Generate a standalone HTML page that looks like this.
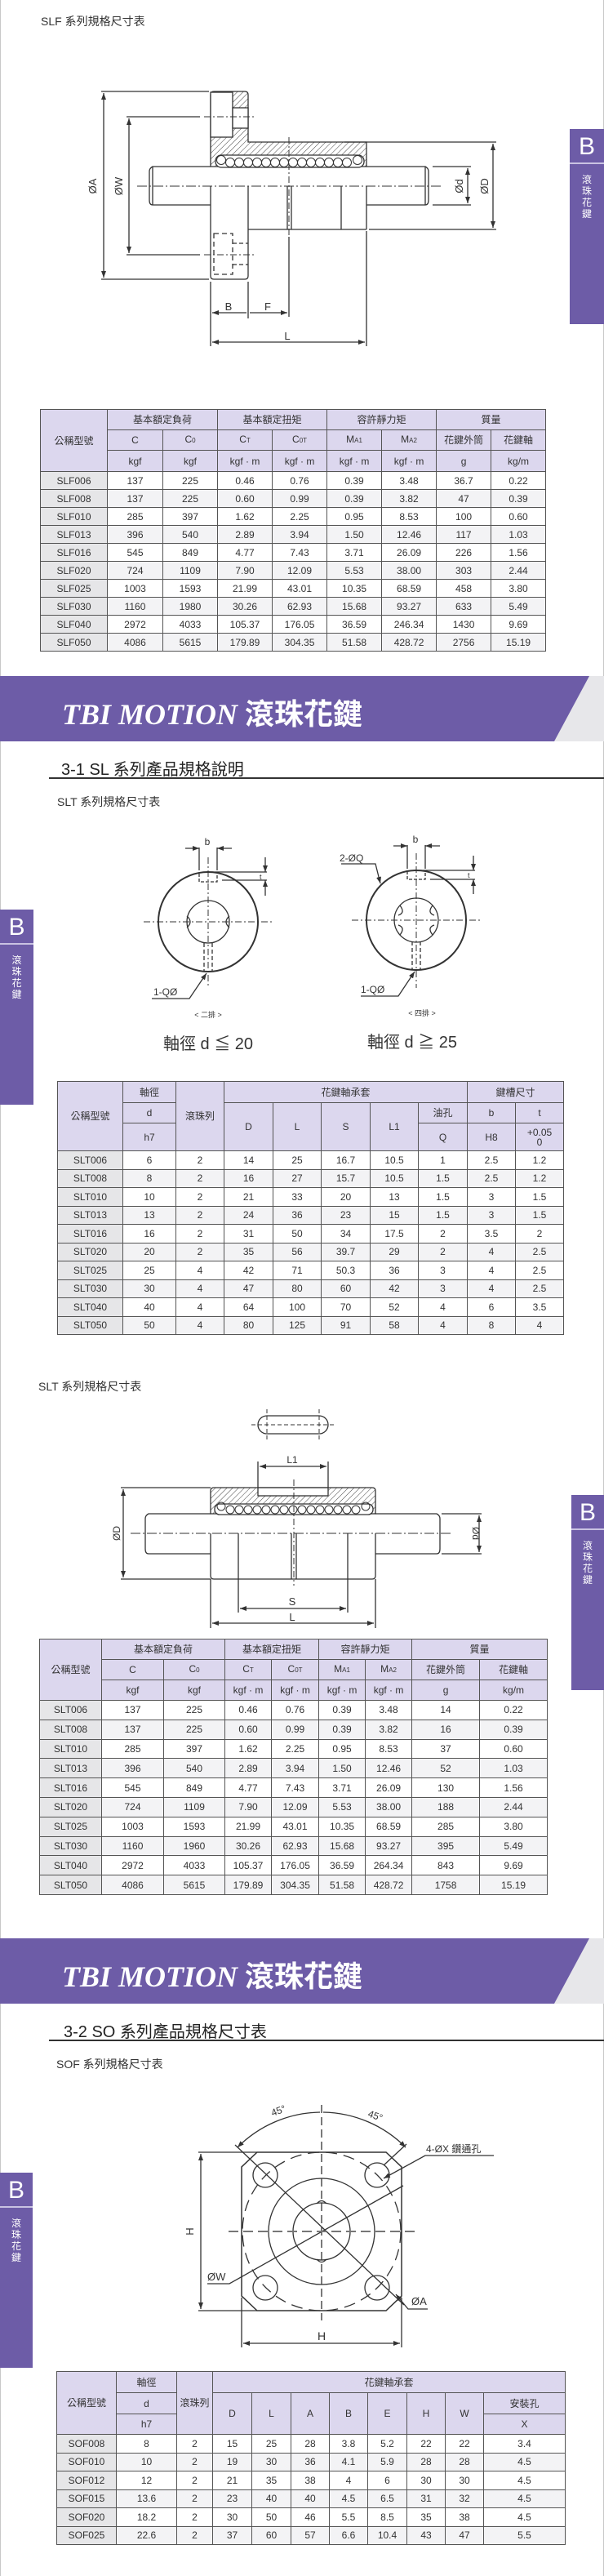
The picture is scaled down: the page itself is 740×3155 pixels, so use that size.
<!DOCTYPE html>
<html><head><meta charset="utf-8">
<style>
*{margin:0;padding:0;box-sizing:border-box}
body{width:740px;height:3155px;position:relative;background:#fff;font-family:"Liberation Sans","Noto Sans CJK TC",sans-serif;color:#333;overflow:hidden}
.abs{position:absolute}
.cap{position:absolute;font-size:14px;color:#333;white-space:nowrap}
.sec{position:absolute;font-size:20px;color:#222;white-space:nowrap}
.uline{position:absolute;left:60px;width:680px;height:2px;background:#333}
.banner{position:absolute;left:0;width:740px;height:80px;background:#e7e7ea}
.banner .p{position:absolute;left:0;top:0;width:740px;height:80px;background:#6d5ca7;clip-path:polygon(0 0,722px 0,679px 80px,0 80px)}
.banner .tt{position:absolute;left:76px;top:18px;font-family:"Liberation Serif","Noto Serif CJK SC",serif;font-style:italic;font-weight:bold;font-size:36px;color:#fff;white-space:nowrap}
.banner .tt span{font-family:"Noto Sans CJK TC",sans-serif;font-style:normal;font-size:36px}
.tab{position:absolute;background:#6d5ca7;color:#fff;text-align:center}
.tab .b{height:43px;font-size:30px;line-height:43px;border-bottom:2px solid #c9c2e2}
.tab .v{font-size:12px;line-height:14px;padding-top:12px;font-family:"Noto Sans CJK TC",sans-serif}
table.t{position:absolute;border-collapse:collapse;table-layout:fixed;font-size:12px;color:#333}
table.t td{border:1.5px solid #555;text-align:center;padding:0;background:#fff;line-height:12px;overflow:hidden}
table.t td.h{background:#dcd7ee}
table.t td.m{background:#e6e6e8}
table.t tr.g td{background:#f3f3f5}
table.t tr.g td.m{background:#e6e6e8}
sub{font-size:8px;vertical-align:baseline}
svg text{font-family:"Liberation Sans","Noto Sans CJK TC",sans-serif;fill:#333}
</style></head><body>

<div class="abs" style="left:0;top:0;width:1px;height:3155px;background:#c8c8c8"></div>
<div class="abs" style="left:739px;top:0;width:1px;height:3155px;background:#c8c8c8"></div>

<svg class="abs" style="left:0;top:0" width="740" height="3155" viewBox="0 0 740 3155">
<defs>
<pattern id="hat" width="5" height="5" patternUnits="userSpaceOnUse" patternTransform="rotate(45)"><line x1="0" y1="0" x2="0" y2="5" stroke="#444" stroke-width="1"/></pattern>
<marker id="ar" markerWidth="8" markerHeight="6" refX="8" refY="3" orient="auto-start-reverse" markerUnits="userSpaceOnUse"><path d="M0,0 L8,3 L0,6 Z" fill="#333"/></marker>
</defs>
<g stroke="#333" stroke-width="1.3" fill="none">
<!-- ===== Drawing 1 SLF ===== -->
<path d="M258,116 Q258,112 262,112 L300,112 Q304,112 304,116 L304,174 L449,174 L449,204 L258,204 Z" fill="url(#hat)"/>
<rect x="258" y="113" width="27" height="55" fill="#fff"/>
<rect x="285" y="132" width="19" height="25" fill="#fff"/>
<rect x="264" y="190" width="182" height="15" rx="7" fill="#fff"/>
<g stroke-width="1"><circle cx="271" cy="196" r="5.5"/><circle cx="282" cy="199" r="5.5"/><circle cx="293" cy="199" r="5.5"/><circle cx="304" cy="199" r="5.5"/><circle cx="315" cy="199" r="5.5"/><circle cx="326" cy="199" r="5.5"/><circle cx="337" cy="199" r="5.5"/><circle cx="348" cy="199" r="5.5"/><circle cx="359" cy="199" r="5.5"/><circle cx="370" cy="199" r="5.5"/><circle cx="381" cy="199" r="5.5"/><circle cx="392" cy="199" r="5.5"/><circle cx="403" cy="199" r="5.5"/><circle cx="414" cy="199" r="5.5"/><circle cx="425" cy="199" r="5.5"/><circle cx="438" cy="196" r="5.5"/></g>
<path d="M258,204 L187,204 Q183,206 183,210 L183,245 Q183,251 187,251 L258,251"/>
<path d="M449,204 L521,204 Q525,206 525,210 L525,245 Q525,251 521,251 L449,251"/>
<path d="M187,204 L187,251 M521,204 L521,251"/>
<path d="M258,228 L258,338 Q258,342 262,342 L300,342 Q304,342 304,338 L304,228"/>
<path d="M304,281 L449,281 M449,228 L449,281 M352,228 L352,281 M357,228 L357,281 M418,228 L418,281"/>
<rect x="262" y="286" width="23" height="50" stroke-dasharray="6 4"/>
<path d="M285,298 L304,298 M285,324 L304,324" stroke-dasharray="5 3"/>
<path d="M168,228 L541,228" stroke-dasharray="12 3 2 3" stroke-width="1"/>
<path d="M354,168 L354,290" stroke-dasharray="8 3 2 3" stroke-width="1"/>
<path d="M354,290 L354,388"/>
<path d="M124,112 L256,112 M124,342 L256,342"/>
<path d="M127,114 L127,340" marker-start="url(#ar)" marker-end="url(#ar)"/>
<path d="M155,143 L245,143 M155,312 L245,312"/>
<path d="M250,143 L312,143 M250,312 L312,312" stroke-dasharray="8 3 2 3" stroke-width="1"/>
<path d="M158,145 L158,310" marker-start="url(#ar)" marker-end="url(#ar)"/>
<path d="M530,204 L577,204 M530,251 L577,251"/>
<path d="M573,206 L573,249" marker-start="url(#ar)" marker-end="url(#ar)"/>
<path d="M422,174 L608,174 M452,281 L608,281"/>
<path d="M604,176 L604,279" marker-start="url(#ar)" marker-end="url(#ar)"/>
<path d="M258,345 L258,424 M304,345 L304,390 M449,283 L449,424"/>
<path d="M260,383 L302,383 M306,383 L352,383" marker-start="url(#ar)" marker-end="url(#ar)"/>
<path d="M260,419 L447,419" marker-start="url(#ar)" marker-end="url(#ar)"/>

<!-- ===== Drawing 2 SLT sections ===== -->
<circle cx="255" cy="1129" r="61" stroke-width="2"/>
<circle cx="255" cy="1129" r="26"/>
<path d="M229,1122 Q237,1129 229,1136 M281,1122 Q273,1129 281,1136"/>
<path d="M176,1129 L335,1129 M255,1050 L255,1210" stroke-dasharray="8 3 2 3" stroke-width="1"/>
<path d="M244,1070 L244,1080 L266,1080 L266,1070" stroke-dasharray="4 2"/>
<path d="M244,1038 L244,1066 M266,1038 L266,1066"/>
<path d="M227,1039 L244,1039" marker-end="url(#ar)"/><path d="M284,1039 L266,1039" marker-end="url(#ar)"/>
<path d="M258,1068 L327,1068 M272,1078 L327,1078"/>
<path d="M325,1050 L325,1068" marker-end="url(#ar)"/><path d="M325,1097 L325,1078" marker-end="url(#ar)"/>
<path d="M250,1155 L250,1190 M260,1155 L260,1190" stroke-dasharray="5 3"/>
<path d="M186,1223 L232,1223 L253,1192" marker-end="url(#ar)"/>
<circle cx="510" cy="1127" r="61" stroke-width="2"/>
<circle cx="510" cy="1127" r="27"/>
<path d="M490,1109 Q497,1118 488,1121 M530,1109 Q523,1118 532,1121 M490,1145 Q497,1136 488,1133 M530,1145 Q523,1136 532,1133"/>
<path d="M431,1127 L590,1127 M510,1045 L510,1210" stroke-dasharray="8 3 2 3" stroke-width="1"/>
<path d="M499,1067 L499,1077 L521,1077 L521,1067" stroke-dasharray="4 2"/>
<path d="M499,1035 L499,1064 M521,1035 L521,1064"/>
<path d="M482,1036 L499,1036" marker-end="url(#ar)"/><path d="M539,1036 L521,1036" marker-end="url(#ar)"/>
<path d="M513,1066 L582,1066 M527,1077 L582,1077"/>
<path d="M580,1048 L580,1066" marker-end="url(#ar)"/><path d="M580,1095 L580,1077" marker-end="url(#ar)"/>
<path d="M505,1153 L505,1188 M515,1153 L515,1188" stroke-dasharray="5 3"/>
<path d="M442,1220 L488,1220 L508,1190" marker-end="url(#ar)"/>
<path d="M418,1058 L460,1058 L466,1082" marker-end="url(#ar)"/>

<!-- ===== Drawing 3 SLT longitudinal ===== -->
<rect x="316" y="1734" width="86" height="22" rx="11"/>
<path d="M327,1726 L327,1764 M391,1726 L391,1764 M308,1745 L410,1745" stroke-dasharray="5 3" stroke-width="1"/>
<path d="M262,1822 L456,1822 Q460,1822 460,1826 L460,1854 L258,1854 L258,1826 Q258,1822 262,1822 Z" fill="url(#hat)"/>
<rect x="316" y="1822" width="86" height="10" fill="#fff"/>
<rect x="263" y="1842" width="194" height="13" rx="6" fill="#fff"/>
<g stroke-width="1"><circle cx="271" cy="1845" r="5"/><circle cx="282" cy="1849" r="5"/><circle cx="293" cy="1849" r="5"/><circle cx="304" cy="1849" r="5"/><circle cx="315" cy="1849" r="5"/><circle cx="326" cy="1849" r="5"/><circle cx="337" cy="1849" r="5"/><circle cx="348" cy="1849" r="5"/><circle cx="359" cy="1849" r="5"/><circle cx="370" cy="1849" r="5"/><circle cx="381" cy="1849" r="5"/><circle cx="392" cy="1849" r="5"/><circle cx="403" cy="1849" r="5"/><circle cx="414" cy="1849" r="5"/><circle cx="425" cy="1849" r="5"/><circle cx="436" cy="1849" r="5"/><circle cx="448" cy="1845" r="5"/></g>
<path d="M258,1854 L182,1854 Q178,1856 178,1860 L178,1897 Q178,1903 182,1903 L258,1903"/>
<path d="M460,1854 L535,1854 Q539,1856 539,1860 L539,1897 Q539,1903 535,1903 L460,1903"/>
<path d="M258,1878 L258,1930 Q258,1934 262,1934 L456,1934 Q460,1934 460,1930 L460,1878"/>
<path d="M292,1878 L292,1934 M357,1878 L357,1934 M363,1878 L363,1934 M426,1878 L426,1934"/>
<path d="M160,1878 L555,1878" stroke-dasharray="12 3 2 3" stroke-width="1"/>
<path d="M360,1812 L360,1942" stroke-dasharray="8 3 2 3" stroke-width="1"/>
<path d="M316,1790 L316,1822 M402,1790 L402,1822"/>
<path d="M318,1796 L400,1796" marker-start="url(#ar)" marker-end="url(#ar)"/>
<path d="M148,1822 L258,1822 M148,1934 L258,1934"/>
<path d="M151,1824 L151,1932" marker-start="url(#ar)" marker-end="url(#ar)"/>
<path d="M541,1854 L590,1854 M541,1903 L590,1903"/>
<path d="M587,1856 L587,1901" marker-start="url(#ar)" marker-end="url(#ar)"/>
<path d="M292,1934 L292,1975 M426,1934 L426,1975 M258,1934 L258,1994 M460,1934 L460,1994"/>
<path d="M294,1970 L424,1970" marker-start="url(#ar)" marker-end="url(#ar)"/>
<path d="M260,1988 L458,1988" marker-start="url(#ar)" marker-end="url(#ar)"/>

<!-- ===== Drawing 4 SOF ===== -->
<path d="M315,2636 L473,2636 L492,2654 L492,2812 L473,2830 L315,2830 L296,2812 L296,2654 Z" stroke-width="1.5"/>
<circle cx="394" cy="2733" r="97" stroke-dasharray="14 8"/>
<circle cx="394" cy="2733" r="65"/>
<circle cx="394" cy="2733" r="35"/>
<path d="M388,2699 Q394,2692 400,2699 M388,2767 Q394,2774 400,2767"/>
<circle cx="325" cy="2664" r="15"/><circle cx="462" cy="2664" r="15"/><circle cx="325" cy="2802" r="15"/><circle cx="462" cy="2802" r="15"/>
<path d="M288,2627 L495,2823"/>
<path d="M254,2797 L281,2797 L494,2677"/>
<path d="M394,2578 L394,2842" stroke-dasharray="10 5"/>
<path d="M280,2733 L508,2733" stroke-dasharray="12 6" stroke="#777" stroke-width="2"/>
<path d="M291,2630 A146,146 0 0 1 392,2587" marker-start="url(#ar)"/>
<path d="M497,2630 A146,146 0 0 0 396,2587" marker-start="url(#ar)"/>
<path d="M498,2626 L470,2652"/>
<path d="M605,2640 L521,2640 L470,2668" marker-end="url(#ar)"/>
<path d="M524,2828 L500,2828 L485,2810" marker-end="url(#ar)"/>
<path d="M243,2636 L315,2636 M243,2830 L315,2830"/>
<path d="M246,2638 L246,2828" marker-start="url(#ar)" marker-end="url(#ar)"/>
<path d="M296,2814 L296,2875 M492,2814 L492,2875"/>
<path d="M298,2870 L490,2870" marker-start="url(#ar)" marker-end="url(#ar)"/>
</g>
<g font-size="13">
<text x="118" y="228" transform="rotate(-90 118 228)" text-anchor="middle">ØA</text>
<text x="150" y="228" transform="rotate(-90 150 228)" text-anchor="middle">ØW</text>
<text x="567" y="228" transform="rotate(-90 567 228)" text-anchor="middle">Ød</text>
<text x="598" y="228" transform="rotate(-90 598 228)" text-anchor="middle">ØD</text>
<text x="280" y="380" text-anchor="middle">B</text>
<text x="328" y="380" text-anchor="middle">F</text>
<text x="352" y="416" text-anchor="middle">L</text>
<text x="254" y="1035" text-anchor="middle" font-size="12">b</text>
<text x="509" y="1032" text-anchor="middle" font-size="12">b</text>
<text x="318" y="1077" font-size="9">t</text>
<text x="573" y="1075" font-size="9">t</text>
<text x="188" y="1219" font-size="12">1-QØ</text>
<text x="442" y="1216" font-size="12">1-QØ</text>
<text x="416" y="1055" font-size="12">2-ØQ</text>
<text x="255" y="1246" text-anchor="middle" font-size="9">&lt; 二排 &gt;</text>
<text x="517" y="1244" text-anchor="middle" font-size="9">&lt; 四排 &gt;</text>
<text x="255" y="1285" text-anchor="middle" font-size="20">軸徑 d ≦ 20</text>
<text x="505" y="1283" text-anchor="middle" font-size="20">軸徑 d ≧ 25</text>
<text x="358" y="1792" text-anchor="middle" font-size="12">L1</text>
<text x="147" y="1878" transform="rotate(-90 147 1878)" text-anchor="middle" font-size="12">ØD</text>
<text x="579" y="1878" transform="rotate(90 579 1878)" text-anchor="middle" font-size="12">Ød</text>
<text x="358" y="1966" text-anchor="middle">S</text>
<text x="358" y="1985" text-anchor="middle">L</text>
<text x="334" y="2592" font-size="12" transform="rotate(-20 334 2592)">45°</text>
<text x="450" y="2592" font-size="12" transform="rotate(20 450 2592)">45°</text>
<text x="522" y="2636" font-size="12">4-ØX 鑽通孔</text>
<text x="254" y="2793" font-size="13">ØW</text>
<text x="504" y="2823" font-size="13">ØA</text>
<text x="237" y="2733" transform="rotate(-90 237 2733)" text-anchor="middle">H</text>
<text x="394" y="2866" text-anchor="middle" font-size="14">H</text>
</g>
</svg>

<div class="cap" style="left:50px;top:16px">SLF 系列規格尺寸表</div>
<div class="tab" style="left:698px;top:158px;width:42px;height:239px"><div class="b">B</div><div class="v">滾<br>珠<br>花<br>鍵</div></div>

<table class="t" style="left:49px;top:501px;width:619px">
<colgroup><col style="width:82px"><col style="width:68px"><col style="width:67px"><col style="width:67px"><col style="width:67px"><col style="width:67px"><col style="width:67px"><col style="width:67px"><col style="width:67px"></colgroup>
<tr style="height:25px"><td class="h" rowspan="3">公稱型號</td><td class="h" colspan="2">基本額定負荷</td><td class="h" colspan="2">基本額定扭矩</td><td class="h" colspan="2">容許靜力矩</td><td class="h" colspan="2">質量</td></tr>
<tr style="height:25px"><td class="h">C</td><td class="h">C<sub>0</sub></td><td class="h">C<sub>T</sub></td><td class="h">C<sub>0T</sub></td><td class="h">M<sub>A1</sub></td><td class="h">M<sub>A2</sub></td><td class="h">花鍵外筒</td><td class="h">花鍵軸</td></tr>
<tr style="height:26px"><td class="h">kgf</td><td class="h">kgf</td><td class="h">kgf · m</td><td class="h">kgf · m</td><td class="h">kgf · m</td><td class="h">kgf · m</td><td class="h">g</td><td class="h">kg/m</td></tr>
<tr style="height:22px"><td class="m">SLF006</td><td>137</td><td>225</td><td>0.46</td><td>0.76</td><td>0.39</td><td>3.48</td><td>36.7</td><td>0.22</td></tr>
<tr style="height:22px" class="g"><td class="m">SLF008</td><td>137</td><td>225</td><td>0.60</td><td>0.99</td><td>0.39</td><td>3.82</td><td>47</td><td>0.39</td></tr>
<tr style="height:22px"><td class="m">SLF010</td><td>285</td><td>397</td><td>1.62</td><td>2.25</td><td>0.95</td><td>8.53</td><td>100</td><td>0.60</td></tr>
<tr style="height:22px" class="g"><td class="m">SLF013</td><td>396</td><td>540</td><td>2.89</td><td>3.94</td><td>1.50</td><td>12.46</td><td>117</td><td>1.03</td></tr>
<tr style="height:22px"><td class="m">SLF016</td><td>545</td><td>849</td><td>4.77</td><td>7.43</td><td>3.71</td><td>26.09</td><td>226</td><td>1.56</td></tr>
<tr style="height:22px" class="g"><td class="m">SLF020</td><td>724</td><td>1109</td><td>7.90</td><td>12.09</td><td>5.53</td><td>38.00</td><td>303</td><td>2.44</td></tr>
<tr style="height:22px"><td class="m">SLF025</td><td>1003</td><td>1593</td><td>21.99</td><td>43.01</td><td>10.35</td><td>68.59</td><td>458</td><td>3.80</td></tr>
<tr style="height:22px" class="g"><td class="m">SLF030</td><td>1160</td><td>1980</td><td>30.26</td><td>62.93</td><td>15.68</td><td>93.27</td><td>633</td><td>5.49</td></tr>
<tr style="height:22px"><td class="m">SLF040</td><td>2972</td><td>4033</td><td>105.37</td><td>176.05</td><td>36.59</td><td>246.34</td><td>1430</td><td>9.69</td></tr>
<tr style="height:22px" class="g"><td class="m">SLF050</td><td>4086</td><td>5615</td><td>179.89</td><td>304.35</td><td>51.58</td><td>428.72</td><td>2756</td><td>15.19</td></tr>
</table>

<div class="banner" style="top:828px"><div class="p"></div><div class="tt">TBI MOTION <span>滾珠花鍵</span></div></div>
<div class="sec" style="left:75px;top:926px">3-1 SL 系列產品規格說明</div>
<div class="uline" style="top:952px"></div>
<div class="cap" style="left:70px;top:972px">SLT 系列規格尺寸表</div>
<div class="tab" style="left:0;top:1114px;width:41px;height:239px"><div class="b">B</div><div class="v">滾<br>珠<br>花<br>鍵</div></div>

<table class="t" style="left:70px;top:1324px;width:620px">
<colgroup><col style="width:80px"><col style="width:65px"><col style="width:59px"><col style="width:60px"><col style="width:59px"><col style="width:60px"><col style="width:59px"><col style="width:60px"><col style="width:59px"><col style="width:59px"></colgroup>
<tr style="height:26px"><td class="h" rowspan="3">公稱型號</td><td class="h">軸徑</td><td class="h" rowspan="3">滾珠列</td><td class="h" colspan="5">花鍵軸承套</td><td class="h" colspan="2">鍵槽尺寸</td></tr>
<tr style="height:25px"><td class="h">d</td><td class="h" rowspan="2">D</td><td class="h" rowspan="2">L</td><td class="h" rowspan="2">S</td><td class="h" rowspan="2">L1</td><td class="h">油孔</td><td class="h">b</td><td class="h">t</td></tr>
<tr style="height:34px"><td class="h">h7</td><td class="h">Q</td><td class="h">H8</td><td class="h">+0.05<br>0</td></tr>
<tr style="height:22.5px"><td class="m">SLT006</td><td>6</td><td>2</td><td>14</td><td>25</td><td>16.7</td><td>10.5</td><td>1</td><td>2.5</td><td>1.2</td></tr>
<tr style="height:22.5px" class="g"><td class="m">SLT008</td><td>8</td><td>2</td><td>16</td><td>27</td><td>15.7</td><td>10.5</td><td>1.5</td><td>2.5</td><td>1.2</td></tr>
<tr style="height:22.5px"><td class="m">SLT010</td><td>10</td><td>2</td><td>21</td><td>33</td><td>20</td><td>13</td><td>1.5</td><td>3</td><td>1.5</td></tr>
<tr style="height:22.5px" class="g"><td class="m">SLT013</td><td>13</td><td>2</td><td>24</td><td>36</td><td>23</td><td>15</td><td>1.5</td><td>3</td><td>1.5</td></tr>
<tr style="height:22.5px"><td class="m">SLT016</td><td>16</td><td>2</td><td>31</td><td>50</td><td>34</td><td>17.5</td><td>2</td><td>3.5</td><td>2</td></tr>
<tr style="height:22.5px" class="g"><td class="m">SLT020</td><td>20</td><td>2</td><td>35</td><td>56</td><td>39.7</td><td>29</td><td>2</td><td>4</td><td>2.5</td></tr>
<tr style="height:22.5px"><td class="m">SLT025</td><td>25</td><td>4</td><td>42</td><td>71</td><td>50.3</td><td>36</td><td>3</td><td>4</td><td>2.5</td></tr>
<tr style="height:22.5px" class="g"><td class="m">SLT030</td><td>30</td><td>4</td><td>47</td><td>80</td><td>60</td><td>42</td><td>3</td><td>4</td><td>2.5</td></tr>
<tr style="height:22.5px"><td class="m">SLT040</td><td>40</td><td>4</td><td>64</td><td>100</td><td>70</td><td>52</td><td>4</td><td>6</td><td>3.5</td></tr>
<tr style="height:22.5px" class="g"><td class="m">SLT050</td><td>50</td><td>4</td><td>80</td><td>125</td><td>91</td><td>58</td><td>4</td><td>8</td><td>4</td></tr>
</table>

<div class="cap" style="left:47px;top:1688px">SLT 系列規格尺寸表</div>
<div class="tab" style="left:700px;top:1831px;width:40px;height:239px"><div class="b">B</div><div class="v">滾<br>珠<br>花<br>鍵</div></div>

<table class="t" style="left:48px;top:2007px;width:622px">
<colgroup><col style="width:76px"><col style="width:76px"><col style="width:75px"><col style="width:57px"><col style="width:58px"><col style="width:57px"><col style="width:57px"><col style="width:83px"><col style="width:83px"></colgroup>
<tr style="height:25px"><td class="h" rowspan="3">公稱型號</td><td class="h" colspan="2">基本額定負荷</td><td class="h" colspan="2">基本額定扭矩</td><td class="h" colspan="2">容許靜力矩</td><td class="h" colspan="2">質量</td></tr>
<tr style="height:25px"><td class="h">C</td><td class="h">C<sub>0</sub></td><td class="h">C<sub>T</sub></td><td class="h">C<sub>0T</sub></td><td class="h">M<sub>A1</sub></td><td class="h">M<sub>A2</sub></td><td class="h">花鍵外筒</td><td class="h">花鍵軸</td></tr>
<tr style="height:25px"><td class="h">kgf</td><td class="h">kgf</td><td class="h">kgf · m</td><td class="h">kgf · m</td><td class="h">kgf · m</td><td class="h">kgf · m</td><td class="h">g</td><td class="h">kg/m</td></tr>
<tr style="height:23.8px"><td class="m">SLT006</td><td>137</td><td>225</td><td>0.46</td><td>0.76</td><td>0.39</td><td>3.48</td><td>14</td><td>0.22</td></tr>
<tr style="height:23.8px" class="g"><td class="m">SLT008</td><td>137</td><td>225</td><td>0.60</td><td>0.99</td><td>0.39</td><td>3.82</td><td>16</td><td>0.39</td></tr>
<tr style="height:23.8px"><td class="m">SLT010</td><td>285</td><td>397</td><td>1.62</td><td>2.25</td><td>0.95</td><td>8.53</td><td>37</td><td>0.60</td></tr>
<tr style="height:23.8px" class="g"><td class="m">SLT013</td><td>396</td><td>540</td><td>2.89</td><td>3.94</td><td>1.50</td><td>12.46</td><td>52</td><td>1.03</td></tr>
<tr style="height:23.8px"><td class="m">SLT016</td><td>545</td><td>849</td><td>4.77</td><td>7.43</td><td>3.71</td><td>26.09</td><td>130</td><td>1.56</td></tr>
<tr style="height:23.8px" class="g"><td class="m">SLT020</td><td>724</td><td>1109</td><td>7.90</td><td>12.09</td><td>5.53</td><td>38.00</td><td>188</td><td>2.44</td></tr>
<tr style="height:23.8px"><td class="m">SLT025</td><td>1003</td><td>1593</td><td>21.99</td><td>43.01</td><td>10.35</td><td>68.59</td><td>285</td><td>3.80</td></tr>
<tr style="height:23.8px" class="g"><td class="m">SLT030</td><td>1160</td><td>1960</td><td>30.26</td><td>62.93</td><td>15.68</td><td>93.27</td><td>395</td><td>5.49</td></tr>
<tr style="height:23.8px"><td class="m">SLT040</td><td>2972</td><td>4033</td><td>105.37</td><td>176.05</td><td>36.59</td><td>264.34</td><td>843</td><td>9.69</td></tr>
<tr style="height:23.8px" class="g"><td class="m">SLT050</td><td>4086</td><td>5615</td><td>179.89</td><td>304.35</td><td>51.58</td><td>428.72</td><td>1758</td><td>15.19</td></tr>
</table>

<div class="banner" style="top:2374px"><div class="p"></div><div class="tt">TBI MOTION <span>滾珠花鍵</span></div></div>
<div class="sec" style="left:78px;top:2472px">3-2 SO 系列產品規格尺寸表</div>
<div class="uline" style="top:2498px"></div>
<div class="cap" style="left:69px;top:2518px">SOF 系列規格尺寸表</div>
<div class="tab" style="left:0;top:2661px;width:40px;height:239px"><div class="b">B</div><div class="v">滾<br>珠<br>花<br>鍵</div></div>

<table class="t" style="left:69px;top:2904px;width:623px">
<colgroup><col style="width:73px"><col style="width:74px"><col style="width:44px"><col style="width:48px"><col style="width:48px"><col style="width:47px"><col style="width:47px"><col style="width:48px"><col style="width:47px"><col style="width:47px"><col style="width:100px"></colgroup>
<tr style="height:26px"><td class="h" rowspan="3">公稱型號</td><td class="h">軸徑</td><td class="h" rowspan="3">滾珠列</td><td class="h" colspan="8">花鍵軸承套</td></tr>
<tr style="height:26px"><td class="h">d</td><td class="h" rowspan="2">D</td><td class="h" rowspan="2">L</td><td class="h" rowspan="2">A</td><td class="h" rowspan="2">B</td><td class="h" rowspan="2">E</td><td class="h" rowspan="2">H</td><td class="h" rowspan="2">W</td><td class="h">安裝孔</td></tr>
<tr style="height:25px"><td class="h">h7</td><td class="h">X</td></tr>
<tr style="height:22.5px"><td class="m">SOF008</td><td>8</td><td>2</td><td>15</td><td>25</td><td>28</td><td>3.8</td><td>5.2</td><td>22</td><td>22</td><td>3.4</td></tr>
<tr style="height:22.5px" class="g"><td class="m">SOF010</td><td>10</td><td>2</td><td>19</td><td>30</td><td>36</td><td>4.1</td><td>5.9</td><td>28</td><td>28</td><td>4.5</td></tr>
<tr style="height:22.5px"><td class="m">SOF012</td><td>12</td><td>2</td><td>21</td><td>35</td><td>38</td><td>4</td><td>6</td><td>30</td><td>30</td><td>4.5</td></tr>
<tr style="height:22.5px" class="g"><td class="m">SOF015</td><td>13.6</td><td>2</td><td>23</td><td>40</td><td>40</td><td>4.5</td><td>6.5</td><td>31</td><td>32</td><td>4.5</td></tr>
<tr style="height:22.5px"><td class="m">SOF020</td><td>18.2</td><td>2</td><td>30</td><td>50</td><td>46</td><td>5.5</td><td>8.5</td><td>35</td><td>38</td><td>4.5</td></tr>
<tr style="height:22.5px" class="g"><td class="m">SOF025</td><td>22.6</td><td>2</td><td>37</td><td>60</td><td>57</td><td>6.6</td><td>10.4</td><td>43</td><td>47</td><td>5.5</td></tr>
</table>

</body></html>
